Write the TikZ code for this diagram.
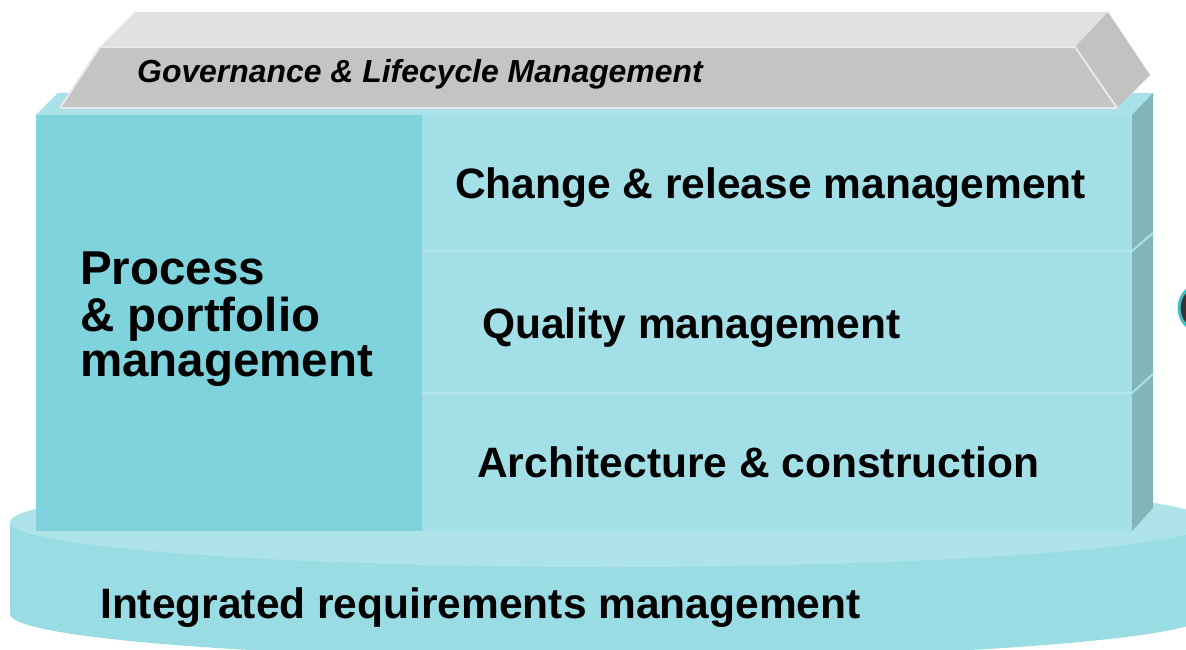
\documentclass[tikz,border=0pt]{standalone}
\usepackage{fontspec}
\setmainfont{Liberation Sans}
\definecolor{blockleft}{HTML}{7FD3DC}
\definecolor{blockright}{HTML}{A3DFE6}
\definecolor{blocktop}{HTML}{A8E1E7}
\definecolor{blockside}{HTML}{82B5BA}
\definecolor{sepline}{HTML}{B4E6EB}
\definecolor{disktop}{HTML}{AEE3EA}
\definecolor{diskside}{HTML}{9ADCE4}
\definecolor{bartop}{HTML}{E1E1E1}
\definecolor{barfront}{HTML}{C4C4C4}
\definecolor{barside}{HTML}{C2C2C2}
\definecolor{baredge}{HTML}{E8E8E8}
\definecolor{icondark}{HTML}{3A3232}
\definecolor{iconring}{HTML}{3CC0C0}
\tikzset{
  bigtext/.style={anchor=base west, inner sep=0pt, font=\fontsize{42.5}{44}\selectfont\bfseries, text=black},
  bartext/.style={anchor=base west, inner sep=0pt, font=\fontsize{31.9}{34}\selectfont\bfseries\itshape, text=black},
  proctext/.style={anchor=base west, inner sep=0pt, font=\fontsize{47.5}{44}\selectfont\bfseries, text=black},
  edgeline/.style={draw=baredge, line width=2pt},
  sepstyle/.style={draw=sepline, line width=2.5pt}
}
\begin{document}
\begin{tikzpicture}[x=1pt,y=-1pt]
\useasboundingbox (0,0) rectangle (1186,650);
\clip (0,0) rectangle (1186,650);
% base disk
\fill[diskside] (610,614) ellipse[x radius=600, y radius=45];
\fill[diskside] (10,522) rectangle (1210,614);
\fill[disktop] (610,522) ellipse[x radius=600, y radius=45];
% block top face and side
\fill[blocktop] (36,115) -- (58,93) -- (1153,93) -- (1132,115) -- cycle;
\fill[blockside] (1132,115) -- (1153,93) -- (1153,508) -- (1132,531) -- cycle;
\draw[draw=blocktop, line width=2pt] (1132,251) -- (1153,233);
\draw[draw=blocktop, line width=2pt] (1132,393) -- (1153,374);
% block front
\fill[blockleft] (36,115) rectangle (422,531);
\fill[blockright] (422,115) rectangle (1132,531);
\draw[sepstyle] (422,251) -- (1132,251);
\draw[draw=sepline, line width=2pt] (422,393) -- (1132,393);
% gray bar
\fill[bartop] (100,47) -- (135,12) -- (1108,12) -- (1075,47) -- cycle;
\fill[barfront] (60,108) -- (100,47) -- (1075,47) -- (1117,108) -- cycle;
\fill[barside] (1075,47) -- (1108,12) -- (1150,75) -- (1117,108) -- cycle;
\draw[edgeline] (100,47) -- (1075,47) -- (1117,108);
\draw[edgeline] (60,108) -- (1117,108);
\draw[edgeline] (60,108) -- (100,47);
% partial icon at right edge
\filldraw[fill=icondark, draw=iconring, line width=3pt] (1200,308) ellipse[x radius=21, y radius=23];
% texts
\node[bartext] (gov) at (137,83) {Governance \& Lifecycle Management};
\node[bigtext] (chg) at (455,198) {Change \& release management};
\node[bigtext] (qual) at (482,338) {Quality management};
\node[bigtext] (arch) at (477,477) {Architecture \& construction};
\node[bigtext] (req) at (100,618) {Integrated requirements management};
\node[proctext] (proc) at (80,376) {\begin{tabular}[b]{@{}l@{}}Process\\\& portfolio\\management\end{tabular}};
\end{tikzpicture}
\end{document}
